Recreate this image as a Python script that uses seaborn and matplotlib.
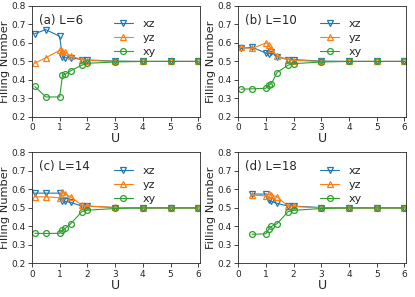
import matplotlib
matplotlib.use("Agg")
import matplotlib.pyplot as plt
import seaborn as sns
import numpy as np
import pandas as pd

sns.set_style("ticks")
plt.rcParams['font.family'] = ['DejaVu Sans']

# Valores de U
U_full = [0.1, 0.5, 1.0, 1.1, 1.2, 1.4, 1.8, 2.0, 3, 4, 5, 6]
U_d = [0.5, 1.0, 1.1, 1.2, 1.4, 1.8, 2.0, 3, 4, 5, 6]

# (a) L=6
xz_a = [0.650, 0.672, 0.636, 0.523, 0.520, 0.520, 0.510, 0.508, 0.502, 0.500, 0.500, 0.500]
yz_a = [0.490, 0.520, 0.560, 0.558, 0.550, 0.530, 0.510, 0.505, 0.500, 0.500, 0.500, 0.500]
xy_a = [0.365, 0.308, 0.308, 0.425, 0.430, 0.450, 0.480, 0.490, 0.497, 0.500, 0.500, 0.500]

# (b) L=10
xz_b = [0.570, 0.577, 0.545, 0.540, 0.550, 0.525, 0.510, 0.510, 0.502, 0.500, 0.500, 0.500]
yz_b = [0.576, 0.570, 0.600, 0.590, 0.565, 0.530, 0.510, 0.505, 0.500, 0.500, 0.500, 0.500]
xy_b = [0.350, 0.352, 0.355, 0.373, 0.380, 0.440, 0.480, 0.488, 0.497, 0.500, 0.500, 0.500]

# (c) L=14
xz_c = [0.580, 0.580, 0.580, 0.535, 0.535, 0.530, 0.510, 0.510, 0.502, 0.500, 0.500, 0.500]
yz_c = [0.560, 0.560, 0.555, 0.585, 0.575, 0.560, 0.515, 0.510, 0.503, 0.500, 0.500, 0.500]
xy_c = [0.363, 0.362, 0.363, 0.380, 0.390, 0.415, 0.480, 0.488, 0.497, 0.500, 0.500, 0.500]

# (d) L=18
xz_d = [0.575, 0.575, 0.545, 0.535, 0.525, 0.510, 0.510, 0.502, 0.500, 0.500, 0.500]
yz_d = [0.570, 0.565, 0.575, 0.570, 0.560, 0.510, 0.508, 0.500, 0.500, 0.500, 0.500]
xy_d = [0.358, 0.360, 0.385, 0.400, 0.415, 0.480, 0.487, 0.497, 0.500, 0.500, 0.500]

paineis = [
    ("(a) L=6", U_full, xz_a, yz_a, xy_a),
    ("(b) L=10", U_full, xz_b, yz_b, xy_b),
    ("(c) L=14", U_full, xz_c, yz_c, xy_c),
    ("(d) L=18", U_d, xz_d, yz_d, xy_d),
]

cores = sns.color_palette("tab10")
estilos = [("xz", "v", cores[0]), ("yz", "^", cores[1]), ("xy", "o", cores[2])]

fig, axes = plt.subplots(2, 2, figsize=(4.15, 2.97), dpi=100)

for ax, (titulo, U, xz, yz, xy) in zip(axes.flat, paineis):
    for (nome, mk, cor), y in zip(estilos, [xz, yz, xy]):
        df = pd.DataFrame({"U": U, "n": y})
        sns.lineplot(data=df, x="U", y="n", ax=ax, color=cor, marker=mk,
                     markersize=4.2, markerfacecolor="none", markeredgecolor=cor,
                     markeredgewidth=0.9, linewidth=0.8, label=nome)
    ax.set_xlim(0, 6.05)
    ax.set_ylim(0.2, 0.8)
    ax.set_xticks(range(0, 7))
    ax.set_yticks(np.arange(0.2, 0.81, 0.1))
    ax.tick_params(labelsize=6.5, length=3, width=0.6, pad=1.5)
    ax.set_xlabel("U", fontsize=9, labelpad=0)
    ax.set_ylabel("Filling Number", fontsize=8.2, labelpad=1)
    ax.text(0.04, 0.93, titulo, transform=ax.transAxes, fontsize=8.5,
            ha="left", va="top")
    ax.legend(loc="upper right", bbox_to_anchor=(0.80, 0.97), frameon=False,
              fontsize=8, handlelength=1.7, labelspacing=0.35, handletextpad=0.9)
    for s in ax.spines.values():
        s.set_linewidth(0.6)

fig.subplots_adjust(left=0.077, right=0.978, top=0.98, bottom=0.113,
                    wspace=0.23, hspace=0.32)
fig.savefig("out.png", dpi=100)
